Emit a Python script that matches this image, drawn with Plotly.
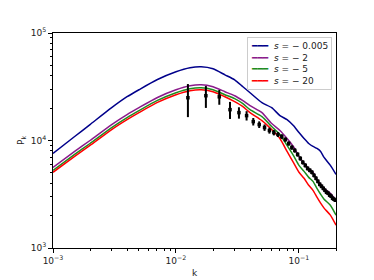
import math
import plotly.graph_objects as go

# k grid for model curves
k_model = [0.001, 0.0015, 0.002, 0.003, 0.004, 0.005, 0.007, 0.01, 0.013, 0.016,
           0.02, 0.025, 0.03, 0.035, 0.04, 0.05, 0.06, 0.07, 0.08, 0.09,
           0.1, 0.11, 0.12, 0.13, 0.14, 0.15, 0.16, 0.18, 0.2]

P_s0005 = [7580, 10890, 14070, 20210, 25550, 29660, 36710, 43540, 47420, 48440,
           46420, 40840, 36710, 31620, 27830, 22480, 20210, 17040, 15640, 13770,
           11860, 10430, 9380, 8800, 8430, 7910, 6960, 5870, 4840]
P_s2 = [5620, 7910, 10000, 14070, 17410, 20210, 25010, 29660, 32310, 33000,
        31620, 28420, 26100, 23470, 21100, 18170, 14370, 12380, 10430, 8800,
        7110, 6130, 5500, 5060, 4350, 3910, 3590, 3230, 2780]
P_s5 = [5280, 7420, 9380, 13190, 16330, 18960, 23470, 27830, 30300, 30950,
        29660, 26670, 24480, 22010, 19360, 16680, 13480, 11370, 8990, 7260,
        5870, 5160, 4540, 4170, 3590, 3160, 2840, 2500, 2020]
P_s20 = [5060, 7110, 8990, 12640, 15640, 18170, 22480, 26670, 29040, 29660,
         28420, 25550, 22970, 20640, 18170, 15320, 12640, 10430, 7910, 6260,
         5060, 4450, 3830, 3440, 2970, 2610, 2350, 2020, 1630]

series_names = ["<i>s</i> = − 0.005", "<i>s</i> = − 2", "<i>s</i> = − 5", "<i>s</i> = − 20"]
series_colors = ["#00008B", "#8B1A8B", "#1E8C1E", "#FF0000"]

# measured data
k_data = [0.0125, 0.0175, 0.0225, 0.0275, 0.0325, 0.0375, 0.0425, 0.0475, 0.0525, 0.0575,
          0.0625, 0.0675, 0.0725, 0.0775, 0.0825, 0.0875, 0.0925, 0.0975, 0.1025, 0.1075,
          0.1125, 0.1175, 0.1225, 0.1275, 0.1325, 0.1375, 0.1425, 0.1475, 0.1525, 0.1575,
          0.1625, 0.1675, 0.1725, 0.1775, 0.1825, 0.1875, 0.1925, 0.1975]
P_data = [25000, 26100, 25500, 19360, 18170, 17040, 14990, 14070, 13190, 12380,
          11860, 11370, 10890, 10210, 9380, 8610, 8080, 7420, 6810, 6260,
          5870, 5500, 5280, 5060, 4740, 4450, 4170, 3910, 3750, 3590,
          3440, 3300, 3230, 3100, 3030, 2900, 2840, 2780]
P_err = [8500, 6000, 4000, 3500, 2200, 1700, 1200, 1000, 900, 800,
         700, 600, 550, 500, 450, 420, 380, 350, 320, 290,
         270, 250, 230, 220, 200, 190, 180, 170, 160, 150,
         140, 135, 130, 125, 120, 115, 110, 105]

x_range = [0.001, 0.2]
y_range = [1e3, 1e5]
x_ticks = [1e-3, 1e-2, 1e-1]
x_ticktext = ["10<sup>−3</sup>", "10<sup>−2</sup>", "10<sup>−1</sup>"]
y_ticks = [1e3, 1e4, 1e5]
y_ticktext = ["10<sup>3</sup>", "10<sup>4</sup>", "10<sup>5</sup>"]

fig = go.Figure()
for P, name, col in zip([P_s0005, P_s2, P_s5, P_s20], series_names, series_colors):
    fig.add_trace(go.Scatter(x=k_model, y=P, mode="lines", name=name, showlegend=False,
                             line=dict(color=col, width=1.5, shape="spline", smoothing=0.6)))

fig.add_trace(go.Scatter(x=k_data, y=P_data, mode="markers", showlegend=False,
                         marker=dict(color="black", size=3.5, symbol="square"),
                         error_y=dict(type="data", array=P_err, color="black",
                                      thickness=2, width=0)))

minor_x = [m * 10.0 ** e for e in (-3, -2, -1) for m in range(2, 10) if m * 10.0 ** e <= 0.2]
minor_y = [m * 10.0 ** e for e in (3, 4) for m in range(2, 10)]

axis_common = dict(showline=True, linecolor="black", linewidth=1, mirror=True,
                   ticks="outside", ticklen=4, tickcolor="black", showgrid=False,
                   zeroline=False, tickfont=dict(size=9, color="#222"))

fig.update_xaxes(type="log", range=[math.log10(v) for v in x_range],
                 tickvals=x_ticks, ticktext=x_ticktext,
                 title=dict(text="k", font=dict(size=9, color="#222"), standoff=4),
                 minor=dict(ticks="outside", ticklen=2, tickcolor="black", tickvals=minor_x),
                 **axis_common)
fig.update_yaxes(type="log", range=[math.log10(v) for v in y_range],
                 tickvals=y_ticks, ticktext=y_ticktext,
                 title=dict(text="P<sub>k</sub>", font=dict(size=9, color="#222"), standoff=4),
                 minor=dict(ticks="outside", ticklen=2, tickcolor="black", tickvals=minor_y),
                 **axis_common)

# compact matplotlib-style legend
legend_text = "<br>".join(
    f'<span style="color:{c}">━━━</span>  {n}' for n, c in zip(series_names, series_colors)
)
fig.add_annotation(xref="paper", yref="paper", x=0.986, y=0.981,
                   xanchor="right", yanchor="top", align="left", showarrow=False,
                   text=legend_text, font=dict(size=9, color="#222"),
                   bgcolor="rgba(255,255,255,0.9)", bordercolor="#cccccc",
                   borderwidth=1, borderpad=3)

fig.update_layout(
    width=374, height=280,
    margin=dict(l=38, r=46, t=25, b=39),
    paper_bgcolor="white", plot_bgcolor="white",
    font=dict(family="DejaVu Sans", size=9, color="#222"),
    showlegend=False,
)

fig.write_html("out.html")
